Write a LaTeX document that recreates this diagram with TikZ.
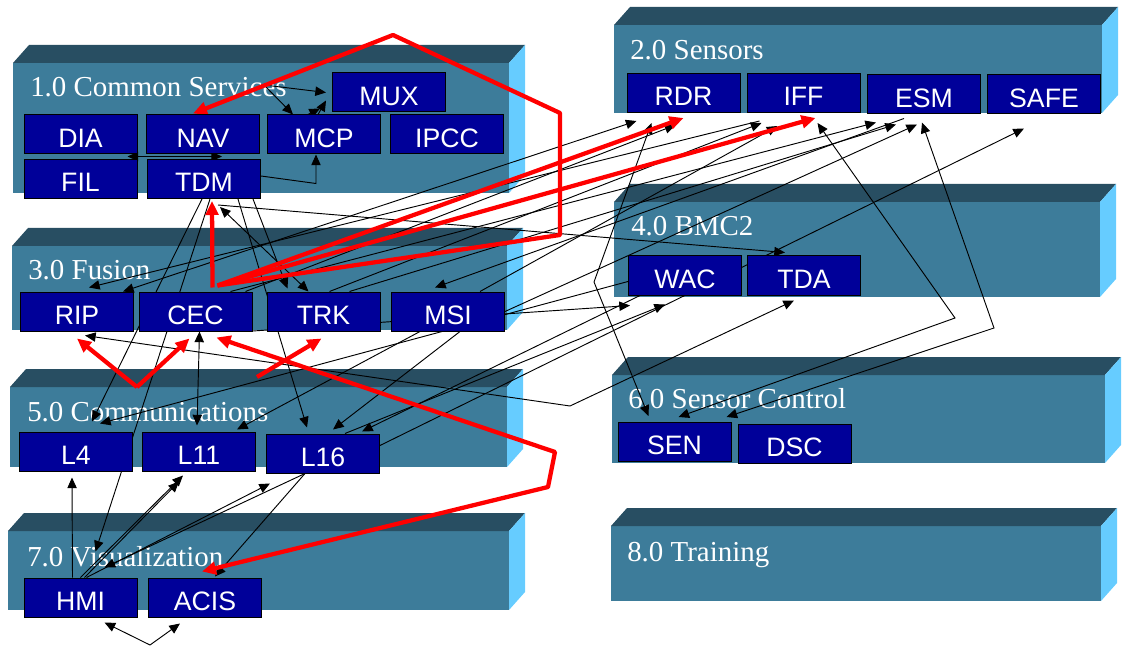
\documentclass[tikz,border=0pt]{standalone}
\usepackage{fontspec}
\setmainfont{Liberation Serif}
\newfontfamily\boxfont{Liberation Sans}
\usetikzlibrary{arrows.meta,calc}
\definecolor{frontc}{HTML}{3D7C9A}
\definecolor{topc}{HTML}{284E62}
\definecolor{sidec}{HTML}{66CCFF}
\definecolor{navy}{HTML}{000099}
\pgfdeclarelayer{bars}
\pgfdeclarelayer{links}
\pgfsetlayers{bars,links,main}
\newcommand\ribbon[4]{%
  \fill[frontc] (#1,#2) rectangle (#3,#4);
  \fill[topc] (#1,#2) -- (#1+16,#2-18) -- (#3+16,#2-18) -- (#3,#2) -- cycle;
  \fill[sidec] (#3,#2) -- (#3+16,#2-18) -- (#3+16,#4-18) -- (#3,#4) -- cycle;}
\begin{document}
\begin{tikzpicture}[x=0.75pt,y=-0.75pt,
  blk/.style={draw=black, line width=0.75pt, fill=navy, text=white,
    font=\boxfont\fontsize{20}{22}\selectfont, minimum width=84.75pt,
    minimum height=29.25pt, inner sep=0pt, text height=19pt, text depth=0pt},
  ttl/.style={anchor=base west, text=white, font=\fontsize{21.7}{24}\selectfont, inner sep=0pt},
  conn/.style={draw=black, line width=0.7pt, >={Triangle[length=8pt,width=7pt]}},
  redc/.style={draw=red, line width=3.2pt, line join=round, >={Triangle[length=10.5pt,width=9.5pt]}}]
\useasboundingbox (0,0) rectangle (1136,649);

% ---------- bars ----------
\begin{pgfonlayer}{bars}
\ribbon{13}{63}{509}{193}
\ribbon{614}{25}{1102}{113}
\ribbon{12}{246}{507}{330}
\ribbon{614}{202}{1100}{297}
\ribbon{10}{387}{507}{467}
\ribbon{612}{375}{1105}{463}
\ribbon{8}{531}{509}{610}
\ribbon{611}{526}{1101}{601}
\node[ttl] (t1) at (30,97) {1.0 Common Services};
\node[ttl] (t2) at (630,60) {2.0 Sensors};
\node[ttl] (t3) at (28,279) {3.0 Fusion};
\node[ttl] (t4) at (631,236) {4.0 BMC2};
\node[ttl] (t5) at (27,421) {5.0 Communications};
\node[ttl] (t6) at (628,408) {6.0 Sensor Control};
\node[ttl] (t7) at (27,566) {7.0 Visualization};
\node[ttl] (t8) at (627,561) {8.0 Training};
\end{pgfonlayer}

% ---------- nodes ----------
\node[blk] (MUX) at (389,92.5) {MUX};
\node[blk] (DIA) at (80.5,134.5) {DIA};
\node[blk] (NAV) at (203,134.5) {NAV};
\node[blk] (MCP) at (324,134.5) {MCP};
\node[blk] (IPCC) at (447,134.5) {IPCC};
\node[blk] (FIL) at (80.5,179) {FIL};
\node[blk] (TDM) at (204,179) {TDM};
\node[blk] (RDR) at (683.5,93) {RDR};
\node[blk] (IFF) at (803.5,93) {IFF};
\node[blk] (ESM) at (924,94.5) {ESM};
\node[blk] (SAFE) at (1044,94.5) {SAFE};
\node[blk] (RIP) at (77,311.5) {RIP};
\node[blk] (CEC) at (195.5,311.5) {CEC};
\node[blk] (TRK) at (323.5,311.5) {TRK};
\node[blk] (MSI) at (448,311.5) {MSI};
\node[blk] (WAC) at (685,275.5) {WAC};
\node[blk] (TDA) at (804,275.5) {TDA};
\node[blk] (L4) at (76,451.5) {L4};
\node[blk] (L11) at (199,451.5) {L11};
\node[blk] (L16) at (323,453.5) {L16};
\node[blk] (SEN) at (674.5,442) {SEN};
\node[blk] (DSC) at (794.5,443.5) {DSC};
\node[blk] (HMI) at (80.5,597.5) {HMI};
\node[blk] (ACIS) at (205,597.5) {ACIS};

% ---------- waypoints ----------
\coordinate (X1) at (264,85);
\coordinate (R4a) at (560,235);
\coordinate (R4b) at (560,113);
\coordinate (R4c) at (393,35);
\coordinate (V1) at (137,387);
\coordinate (V2) at (257,377);
\coordinate (R7a) at (555,452);
\coordinate (R7b) at (548,487);
\coordinate (B1) at (570,406);
\coordinate (S11) at (955,318);
\coordinate (S12) at (994,328);
\coordinate (S13) at (594,282);
\coordinate (Y1) at (150,645);

\begin{pgfonlayer}{links}
% common services
\draw[conn,->] (X1) -- ($(MUX.west)+(-6,0)$);
\draw[conn,->] (X1) -- ($(MCP.north)+(-31,0)$);
\draw[conn,->] ($(MCP.north)+(-16,0)$) -- ($(MUX.south west)+(-12,-4)$);
\draw[conn,->] ($(MCP.north)+(-6,0)$) -- ($(MUX.south west)+(-6,-12)$);
\draw[conn,<->] ($(NAV.south)+(19,2)$) -- ($(DIA.south east)+(-10,2)$);
\draw[conn,->] ($(TDM.east)+(0,-3)$) -- ($(MCP.south)+(-8,29)$) -- ($(MCP.south)+(-8,0)$);
% from TDM
\draw[conn,->] ($(TDM.south)+(-2,0)$) -- ($(L4.north)+(16,-10)$);
\draw[conn,->] ($(TDM.south)+(6,0)$) -- ($(HMI.north)+(15,-26)$);
\draw[conn,->] ($(TDM.south)+(49,0)$) -- ($(TRK.north)+(-36,-3)$);
\draw[conn,<->] ($(TRK.north)+(-15,0)$) -- ($(TDM.south)+(16,8)$);
\draw[conn,->] ($(TDM.south)+(14,6)$) -- ($(TDA.north)+(-19,-3)$);
\draw[conn,->] ($(TDM.south)+(34,0)$) -- ($(L16.north)+(-16,-6)$);
% fusion <-> sensors
\draw[conn,<->] ($(RIP.north)+(46,0)$) -- ($(RDR.south)+(-47,8)$);
\draw[conn,->] ($(IFF.south)+(-44,8)$) -- ($(RIP.north)+(12,-4)$);
\draw[conn,->] ($(CEC.north)+(50,0)$) -- ($(RDR.south)+(-8,12)$);
\draw[conn,->] ($(TRK.north)+(6,0)$) -- ($(IFF.south)+(-42,10)$);
\draw[conn,->] ($(MSI.north)+(32,0)$) -- ($(IFF.south)+(-26,13)$);
\draw[conn,->] ($(CEC.north)+(35,0)$) -- ($(ESM.south)+(-48,8)$);
\draw[conn,->] ($(TRK.north)+(26,0)$) -- ($(ESM.south)+(-28,10)$);
\draw[conn,->] (MSI.east) -- ($(ESM.south)+(-7,10)$);
\draw[conn,->] ($(L16.east)+(0,-8)$) -- ($(SAFE.south)+(-20,14)$);
\draw[conn,->] ($(ESM.south)+(-20,4)$) -- ($(MSI.north)+(-13,-4)$);
\draw[conn,<->] ($(IFF.south)+(14,10)$) -- (S11) -- ($(SEN.north)+(4,-5)$);
\draw[conn,<->] ($(ESM.south)+(-2,8)$) -- (S12) -- ($(SEN.north)+(52,-5)$);
\draw[conn,<->] ($(RDR.south)+(-32,10)$) -- (S13) -- ($(SEN.north)+(-26,-6)$);
% to BMC2
\draw[conn,<->] ($(RIP.south)+(8,4)$) -- (B1) -- ($(TDA.south)+(-10,5)$);
\draw[conn,->] ($(L16.north)+(22,0)$) -- ($(WAC.south)+(-20,9)$);
\draw[conn,->] ($(CEC.south)+(50,0)$) -- ($(WAC.south)+(-55,10)$);
\draw[conn,->] ($(WAC.west)+(0,6)$) -- ($(L4.north)+(24,-8)$);
% communications
\draw[conn,<->] ($(CEC.south)+(4,0)$) -- ($(L11.north)+(-2,-6)$);
\draw[conn,->] ($(MSI.south)+(-28,0)$) -- ($(L11.north)+(38,-2)$);
\draw[conn,->] ($(MSI.south)+(12,0)$) -- ($(L16.north)+(10,-4)$);
\draw[conn,->] ($(WAC.south)+(-45,0)$) -- ($(L16.north)+(39,-2)$);
% visualization
\draw[conn,->] ($(HMI.north)+(-8,0)$) -- ($(L4.south)+(-4,6)$);
\draw[conn,->] (HMI.north) -- ($(L11.south)+(-16,4)$);
\draw[conn,->] ($(HMI.north)+(4,0)$) -- ($(L11.south)+(-20,10)$);
\draw[conn,->] ($(HMI.north)+(6,0)$) -- ($(L16.south)+(-53,10)$);
\draw[conn,->] ($(L16.south)+(-18,0)$) -- ($(HMI.north)+(24,-10)$);
\draw[conn,->] ($(L16.south)+(-18,0)$) -- ($(ACIS.north)+(10,-1)$);
\draw[conn,->] (Y1) -- ($(HMI.south)+(24,5)$);
\draw[conn,->] (Y1) -- ($(ACIS.south)+(-25,6)$);
% red connectors
\draw[redc,->] ($(CEC.north)+(17,-4)$) -- ($(TDM.south)+(8,2)$);
\draw[redc,->] ($(CEC.north)+(22,-6)$) -- ($(RDR.south)+(0,5)$);
\draw[redc,->] ($(CEC.north)+(22,-6)$) -- ($(IFF.south)+(12,5)$);
\draw[redc,->] ($(CEC.north)+(22,-6)$) -- (R4a) -- (R4b) -- (R4c) -- ($(NAV.north)+(-10,-1)$);
\draw[redc,->] (V1) -- ($(RIP.south)+(0,7)$);
\draw[redc,->] (V1) -- ($(CEC.south)+(-6,7)$);
\draw[redc,->] (V2) -- ($(TRK.south)+(-2,7)$);
\draw[redc,<->] ($(CEC.south)+(21,6)$) -- (R7a) -- (R7b) -- ($(ACIS.north)+(-3,-6)$);
\end{pgfonlayer}
\end{tikzpicture}
\end{document}
